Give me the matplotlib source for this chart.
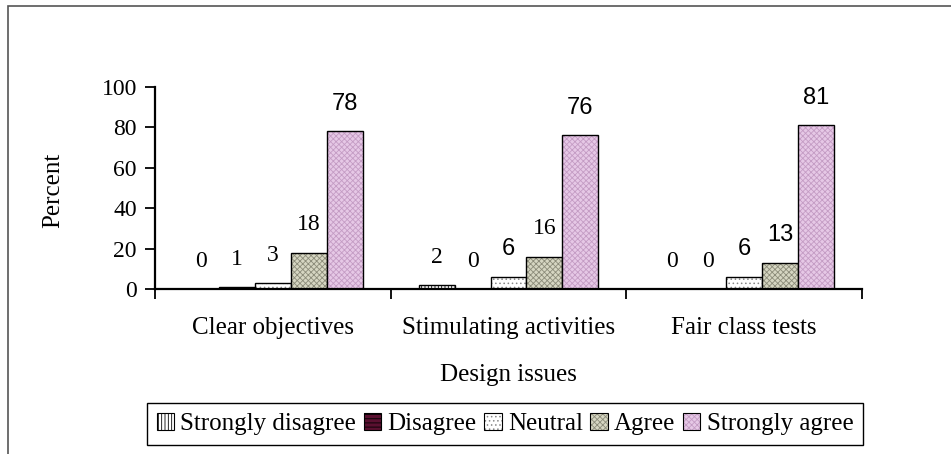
import numpy as np
import matplotlib
matplotlib.use("Agg")
import matplotlib.pyplot as plt
from matplotlib.patches import Patch, Rectangle
from matplotlib.legend_handler import HandlerTuple

# Survey responses per design issue (percent)
issues = ["Clear objectives", "Stimulating activities", "Fair class tests"]
responses = ["Strongly disagree", "Disagree", "Neutral", "Agree", "Strongly agree"]
strongly_disagree = [0, 2, 0]
disagree = [1, 0, 0]
neutral = [3, 6, 6]
agree = [18, 16, 13]
strongly_agree = [78, 76, 81]
series = [strongly_disagree, disagree, neutral, agree, strongly_agree]

# fill, hatch pattern, hatch colour for each response
faces = ["white", "#5a1030", "white", "#d6d6c2", "#e6c8e6"]
hatches = ["|||||", "----", "....", "xxxxxx", "xxxxxx"]
hatch_cols = ["black", "#000000", "#888888", "#8c8c7a", "#c49cc4"]

plt.rcParams["font.family"] = ["Liberation Serif", "DejaVu Serif"]
plt.rcParams["hatch.linewidth"] = 0.6

fig = plt.figure(figsize=(9.51, 4.54), dpi=100)
ax = fig.add_axes([155 / 951, 1 - 289 / 454, 707 / 951, 202 / 454])

# outer frame, running off the right and bottom edges
fig.patches.append(Rectangle((8 / 951, -0.05), 1.2, 1.05 - 6 / 454, transform=fig.transFigure,
                             fill=False, edgecolor="#555555", linewidth=1.2))

x = np.arange(len(issues))
width = 0.1525
handles = []
for i, vals in enumerate(series):
    pos = x + (i - 2) * width
    ax.bar(pos, vals, width, color=faces[i], hatch=hatches[i], edgecolor=hatch_cols[i], linewidth=0)
    ax.bar(pos, vals, width, fill=False, edgecolor="black", linewidth=1)
    for p, v in zip(pos, vals):
        if v in (6, 13) or v > 50:
            ax.annotate(str(v), (p, v), xytext=(0, 20), textcoords="offset points",
                        ha="center", va="center", fontsize=17, family=["Liberation Sans"])
        else:
            ax.annotate(str(v), (p, v), xytext=(0, 20), textcoords="offset points",
                        ha="center", va="center", fontsize=17)
    handles.append((Patch(facecolor=faces[i], hatch=hatches[i], edgecolor=hatch_cols[i], linewidth=0),
                    Patch(fill=False, edgecolor="black", linewidth=0.8)))

ax.set_xlim(-0.5, 2.5)
ax.set_ylim(0, 100)
ax.set_yticks(range(0, 101, 20))
ax.set_xticks([-0.5, 0.5, 1.5, 2.5])
ax.set_xticklabels([])
ax.set_xticks(x, minor=True)
ax.set_xticklabels(issues, minor=True, fontsize=18)
ax.tick_params(axis="x", which="major", length=7, width=1.3, direction="out")
ax.tick_params(axis="x", which="minor", length=0, pad=20)
ax.tick_params(axis="y", length=7, width=1.3, direction="out", labelsize=17, pad=6)
for s in ["top", "right"]:
    ax.spines[s].set_visible(False)
for s in ["left", "bottom"]:
    ax.spines[s].set_linewidth(1.6)

ax.set_xlabel("Design issues", fontsize=18, labelpad=18)
fig.text(53 / 951, 1 - 190 / 454, "Percent", rotation=90, ha="center", va="center", fontsize=18)

leg = fig.legend(handles, responses, loc="center", bbox_to_anchor=(505 / 951, 1 - 424 / 454), ncol=5,
                 fontsize=18, frameon=True, fancybox=False, edgecolor="black", framealpha=1,
                 handlelength=0.7, handleheight=0.7, handletextpad=0.25, columnspacing=0.3,
                 borderpad=0.4, borderaxespad=0,
                 handler_map={tuple: HandlerTuple(ndivide=1, pad=0)})
leg.get_frame().set_linewidth(1.0)

fig.savefig("out.png", dpi=100)
